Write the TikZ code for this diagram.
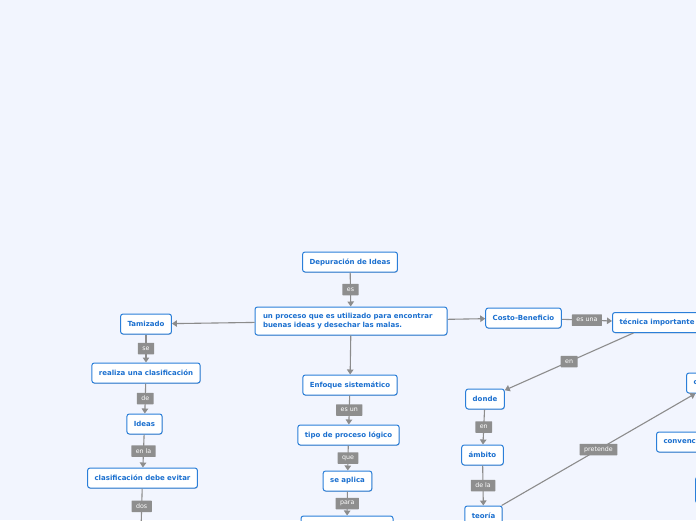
\documentclass[tikz,border=0pt]{standalone}
\usepackage{fontspec}
\setmainfont{DejaVu Sans}
\usetikzlibrary{arrows.meta,shadows}
\definecolor{bg}{HTML}{F2F5FE}
\definecolor{nodeblue}{HTML}{2B7FD9}
\definecolor{textblue}{HTML}{1A6FCF}
\definecolor{linegray}{HTML}{8C8C8C}
\definecolor{labelgray}{HTML}{8E8E8E}
\begin{document}
\begin{tikzpicture}[x=1pt,y=-1pt,
  concept/.style={draw=nodeblue, line width=1pt, fill=white, rounded corners=2.5pt,
    text=textblue, font=\fontsize{7}{8}\selectfont\bfseries, inner xsep=7pt, inner ysep=2pt,
    minimum height=20pt,
    drop shadow={shadow xshift=0.4pt, shadow yshift=-0.8pt, opacity=0.3, fill=black!60}},
  lbl/.style={fill=labelgray, text=white, font=\fontsize{6.3}{7}\selectfont,
    inner xsep=4.5pt, inner ysep=0pt, minimum height=11.5pt, rounded corners=0.5pt},
  conn/.style={draw=linegray, line width=1.1pt, -{Triangle[length=5pt,width=6.5pt]}},
]
\useasboundingbox (0,0) rectangle (696,520);
\fill[bg] (0,0) rectangle (696,520);
\clip (0,0) rectangle (696,520);

\node[concept] (dep) at (350,262) {Depuración de Ideas};
\node[concept, text width=176pt, inner xsep=8pt, align=left, minimum height=28pt,
  font=\fontsize{7}{8.2}\selectfont\bfseries] (main) at (351,321)
  {un proceso que es utilizado para encontrar\\buenas ideas y desechar las malas.};

\node[concept] (tam) at (146,324) {Tamizado};
\node[concept] (real) at (146,373) {realiza una clasificación};
\node[concept] (ideas) at (144.5,424) {Ideas};
\node[concept] (clas) at (142.5,478) {clasificación debe evitar};
\coordinate (dosend) at (141,530);

\node[concept] (enf) at (350,385) {Enfoque sistemático};
\node[concept] (tipo) at (348.5,435) {tipo de proceso lógico};
\node[concept] (apl) at (347.5,481) {se aplica};
\node[concept, minimum width=92pt] (paranode) at (347,526) {};

\node[concept] (costo) at (523.5,318) {Costo-Beneficio};
\node[concept, anchor=west] (tec) at (612,322.5) {técnica importante};
\node[concept] (donde) at (485,399) {donde};
\node[concept] (amb) at (482.5,455) {ámbito};
\node[concept] (teo) at (483.5,516) {teoría};
\node[concept, anchor=west, text width=40pt, align=left] (cnode) at (686,383) {c};
\node[concept, anchor=west, text width=46pt, align=left] (conv) at (656,442) {convenc};
\node[concept, anchor=west, minimum width=50pt, minimum height=26pt] (rnode) at (695,490) {};

\draw[conn] (dep) -- node[lbl]{es} (main);
\draw[conn] (main) -- (tam);
\draw[conn] (main) -- (costo);
\draw[conn] (main) -- (enf);

\draw[conn] (tam) -- node[lbl]{se} (real);
\draw[conn] (real) -- node[lbl]{de} (ideas);
\draw[conn] (ideas) -- node[lbl]{en la} (clas);
\draw[conn] (clas) -- node[lbl, pos=0.43]{dos} (dosend);

\draw[conn] (enf) -- node[lbl]{es un} (tipo);
\draw[conn] (tipo) -- node[lbl]{que} (apl);
\draw[conn] (apl) -- node[lbl]{para} (paranode);

\draw[conn] (costo) -- node[lbl]{es una} (tec);
\draw[conn] (tec) -- node[lbl]{en} (donde);
\draw[conn] (donde) -- node[lbl]{en} (amb);
\draw[conn] (amb) -- node[lbl]{de la} (teo);
\draw[conn] (teo) -- node[lbl]{pretende} (cnode);
\end{tikzpicture}
\end{document}
